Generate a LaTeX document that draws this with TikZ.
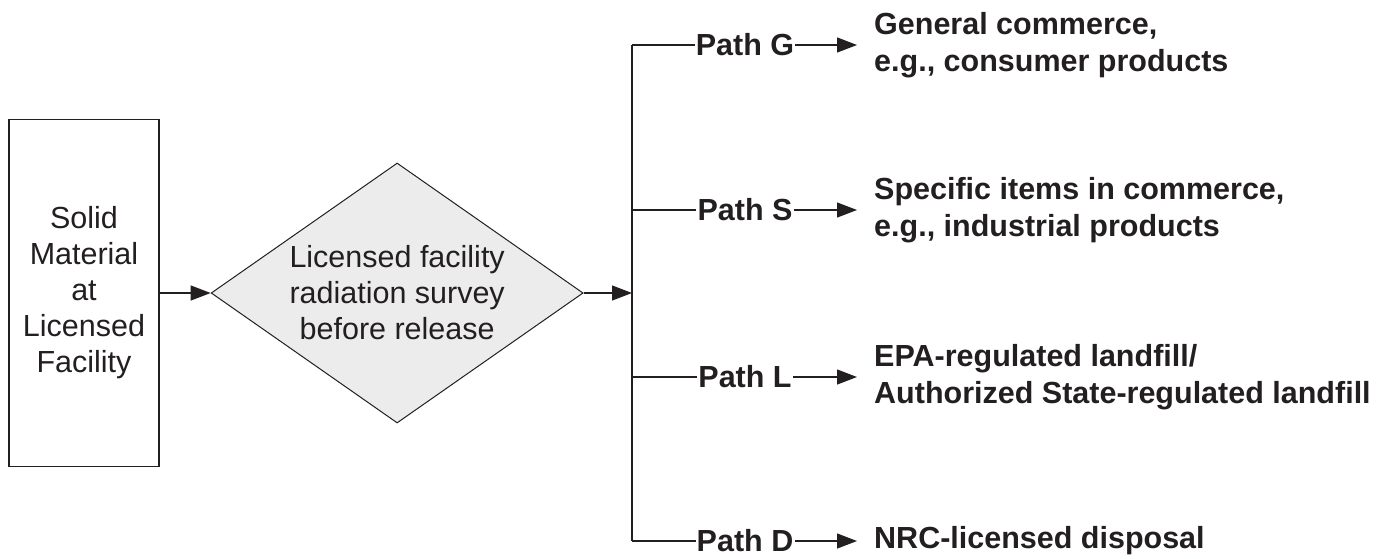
\documentclass[tikz,border=0pt]{standalone}
\usepackage{fontspec}
\setmainfont{Liberation Sans}
\usetikzlibrary{shapes.geometric, arrows.meta, positioning}
\definecolor{inkgray}{RGB}{35,31,32}
\definecolor{diafill}{RGB}{236,236,236}

\begin{document}
\begin{tikzpicture}[x=1pt, y=-1pt,
  box/.style={draw=inkgray, line width=1.3pt, minimum width=150pt,
              minimum height=347pt, inner sep=0pt, align=center,
              text=inkgray, font=\fontsize{30.5}{36}\selectfont},
  check/.style={diamond, shape aspect=1.43, draw=inkgray, line width=1pt,
                fill=diafill, minimum width=372pt, minimum height=260pt,
                inner sep=0pt, align=center, text=inkgray,
                font=\fontsize{30.5}{36}\selectfont},
  pathlbl/.style={inner sep=1pt, text=inkgray,
                  font=\bfseries\fontsize{30.5}{37}\selectfont},
  dest/.style={anchor=west, inner xsep=17pt, inner ysep=0pt, align=left,
               text=inkgray, font=\bfseries\fontsize{30.5}{37}\selectfont},
  arrow/.style={-{Triangle[length=20pt, width=15pt]}, line width=1.3pt, inkgray},
  link/.style={line width=1.3pt, inkgray}
]
  \useasboundingbox (0,0) rectangle (1386,558);

  \node[box] (solid) at (84,293) {Solid\\Material\\at\\Licensed\\Facility};
  \node[check, right=51pt of solid] (survey)
    {Licensed facility\\radiation survey\\before release};

  \coordinate (split) at (632,293);
  \coordinate (topG)  at (632,45);
  \coordinate (topS)  at (632,210);
  \coordinate (topL)  at (632,377);
  \coordinate (botD)  at (632,541);

  \node[pathlbl] (pathG) at (745,45)  {Path G};
  \node[pathlbl] (pathS) at (745,210) {Path S};
  \node[pathlbl] (pathL) at (745,377) {Path L};
  \node[pathlbl] (pathD) at (745,541) {Path D};

  \node[dest] (general)  at (857,45)  {General commerce,\\e.g., consumer products};
  \node[dest] (specific) at (857,210) {Specific items in commerce,\\e.g., industrial products};
  \node[dest] (landfill) at (857,377) {EPA-regulated landfill/\\Authorized State-regulated landfill};
  \node[dest] (disposal) at (857,541) {NRC-licensed disposal};

  \draw[arrow] (solid) -- (survey);
  \draw[arrow] (survey) -- (split);
  \draw[link] (topG) -- (botD);

  \draw[link] (topG) -- (pathG);
  \draw[link] (topS) -- (pathS);
  \draw[link] (topL) -- (pathL);
  \draw[link] (botD) -- (pathD);

  \draw[arrow] (pathG) -- (general);
  \draw[arrow] (pathS) -- (specific);
  \draw[arrow] (pathL) -- (landfill);
  \draw[arrow] (pathD) -- (disposal);

\end{tikzpicture}
\end{document}
